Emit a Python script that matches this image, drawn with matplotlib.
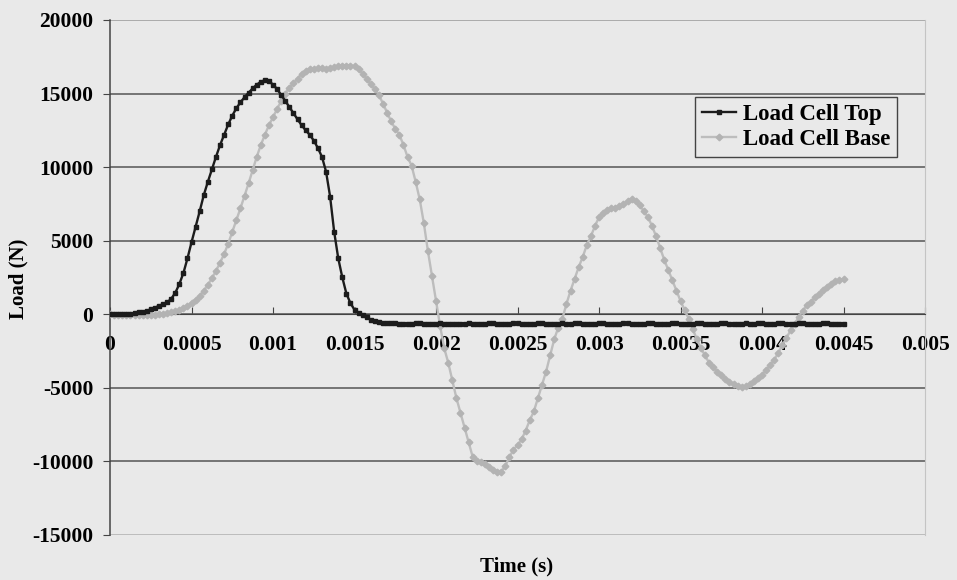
import numpy as np
import matplotlib
matplotlib.use('Agg')
import matplotlib.pyplot as plt

plt.rcParams['font.family'] = ['Liberation Serif', 'DejaVu Serif']
plt.rcParams['font.weight'] = 'bold'

# sample spacing of the logged data (s)
STEP = 0.000025

# Load Cell Top (N), one value per sample from t = 0
load_top = [
    0, 0, 10, 20, 30, 50, 80, 120, 170, 240,
    330, 450, 560, 700, 800, 1050, 1450, 2050, 2800, 3800,
    4900, 5950, 7000, 8100, 9000, 9850, 10700, 11500, 12200, 12900,
    13500, 14000, 14400, 14750, 15050, 15350, 15600, 15800, 15900, 15850,
    15600, 15300, 14900, 14500, 14080, 13650, 13250, 12850, 12500, 12200,
    11800, 11300, 10700, 9700, 8000, 5600, 3800, 2500, 1400, 750,
    300, 100, -50, -220, -360, -450, -520, -570, -600, -610,
    -620, -630, -630, -640, -630, -620, -620, -630, -640, -630,
    -630, -620, -630, -640, -650, -640, -630, -630, -620, -630,
    -640, -630, -630, -620, -620, -630, -640, -640, -630, -620,
    -620, -630, -630, -640, -630, -620, -620, -630, -630, -640,
    -630, -620, -630, -630, -620, -620, -630, -640, -630, -630,
    -620, -620, -630, -640, -640, -630, -620, -620, -630, -630,
    -640, -630, -620, -620, -630, -630, -640, -630, -620, -620,
    -630, -640, -640, -630, -620, -620, -630, -630, -640, -630,
    -620, -620, -630, -630, -640, -630, -620, -630, -630, -620,
    -620, -630, -640, -630, -620, -620, -630, -640, -630, -620,
    -620, -630, -630, -640, -630, -620, -620, -630, -630, -630,
    -630,
]

# Load Cell Base (N)
load_base = [
    0, -20, -40, -50, -60, -70, -80, -80, -80, -70,
    -50, -20, 10, 50, 100, 160, 230, 310, 420, 580,
    780, 1000, 1250, 1600, 2000, 2450, 2950, 3500, 4100, 4800,
    5600, 6400, 7200, 8050, 8900, 9800, 10700, 11500, 12200, 12850,
    13400, 13950, 14500, 15000, 15400, 15700, 16000, 16350, 16550, 16650,
    16700, 16750, 16750, 16700, 16750, 16800, 16850, 16900, 16900, 16900,
    16850, 16650, 16350, 16000, 15650, 15300, 14900, 14300, 13700, 13100,
    12600, 12200, 11500, 10700, 10100, 9000, 7800, 6200, 4300, 2600,
    900, -800, -2300, -3300, -4500, -5700, -6700, -7700, -8700, -9700,
    -9950, -10050, -10150, -10350, -10550, -10750, -10700, -10300, -9700, -9200,
    -8900, -8500, -7900, -7200, -6600, -5700, -4800, -3900, -2800, -1700,
    -900, -300, 700, 1600, 2400, 3200, 3900, 4700, 5300, 6000,
    6600, 6900, 7100, 7200, 7250, 7350, 7500, 7700, 7850, 7700,
    7400, 7000, 6600, 6000, 5300, 4500, 3700, 3000, 2300, 1600,
    900, 300, -300, -1000, -1700, -2300, -2800, -3300, -3600, -3900,
    -4150, -4400, -4600, -4750, -4850, -4950, -4900, -4750, -4550, -4300,
    -4100, -3800, -3450, -3100, -2600, -2100, -1600, -1100, -650, -200,
    250, 600, 850, 1150, 1400, 1650, 1850, 2050, 2250, 2350,
    2400,
]

time_s = np.arange(len(load_top)) * STEP

x_ticks = [0, 0.0005, 0.001, 0.0015, 0.002, 0.0025, 0.003, 0.0035, 0.004, 0.0045, 0.005]
x_labels = ['0', '0.0005', '0.001', '0.0015', '0.002', '0.0025', '0.003', '0.0035', '0.004', '0.0045', '0.005']
y_ticks = [-15000, -10000, -5000, 0, 5000, 10000, 15000, 20000]

bg = '#e9e9e9'
fig = plt.figure(figsize=(9.57, 5.8), dpi=100, facecolor=bg)
ax = fig.add_axes([0.115, 0.0776, 0.8516, 0.888], facecolor=bg)

ax.plot(time_s, load_base, color='#bdbdbd', lw=1.7, marker='D', ms=3.4,
        mec='#b3b3b3', mfc='#b3b3b3', label='Load Cell Base', zorder=3)
ax.plot(time_s, load_top, color='#1c1c1c', lw=1.7, marker='s', ms=3.0,
        mec='#1c1c1c', mfc='#1c1c1c', label='Load Cell Top', zorder=4)

ax.set_xlim(0, 0.005)
ax.set_ylim(-15000, 20000)
ax.set_xticks(x_ticks)
ax.set_xticklabels(x_labels)
ax.set_yticks(y_ticks)
ax.set_yticklabels([str(v) for v in y_ticks])

ax.yaxis.grid(True, color='#555555', lw=1.1)
ax.set_axisbelow(True)
grid = ax.get_ygridlines()
grid[0].set_color('#b0b0b0')
grid[-1].set_color('#9a9a9a')

ax.spines['bottom'].set_position(('data', 0))
ax.spines['bottom'].set_color('#444444')
ax.spines['left'].set_color('#444444')
ax.spines['left'].set_linewidth(1.1)
ax.spines['top'].set_visible(False)
ax.spines['right'].set_color('#c4c4c4')

ax.tick_params(axis='x', direction='in', length=5, pad=15, labelsize=15.5, color='#444444')
ax.tick_params(axis='y', direction='out', length=5, pad=7, labelsize=15.5, color='#444444')

handles, labels = ax.get_legend_handles_labels()
leg = ax.legend(handles[::-1], labels[::-1], loc='upper right',
                bbox_to_anchor=(0.9656, 0.8505), borderaxespad=0,
                fontsize=16.5, handlelength=1.5, handletextpad=0.3,
                borderpad=0.3, labelspacing=0.2, fancybox=False,
                framealpha=1, facecolor=bg, edgecolor='#444444')
leg.get_frame().set_linewidth(1.0)

fig.text(0.540, 0.024, 'Time (s)', ha='center', va='center', fontsize=15, fontweight='bold')
fig.text(0.019, 0.52, 'Load (N)', ha='center', va='center', rotation=90, fontsize=15, fontweight='bold')

fig.savefig('out.png', dpi=100, facecolor=bg)
